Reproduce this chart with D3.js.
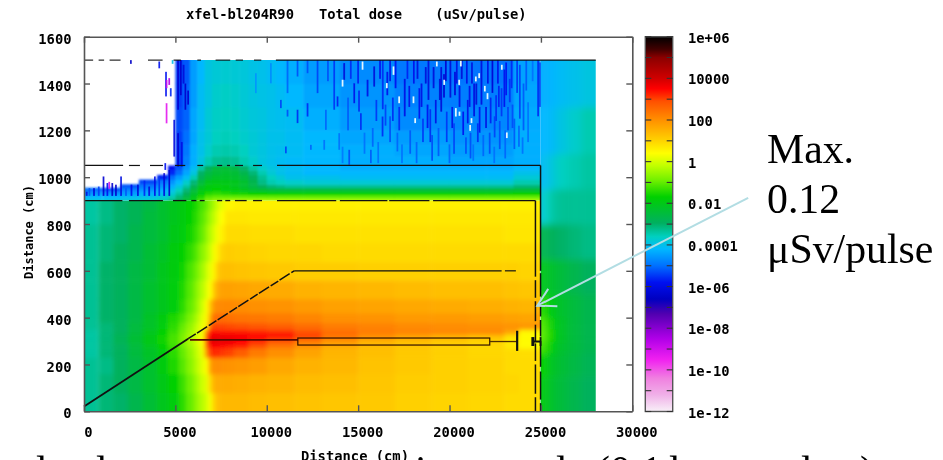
<!DOCTYPE html>
<html>
<head>
<meta charset="utf-8">
<style>
  html, body { margin: 0; padding: 0; background: #fff; overflow: hidden; }
  text { font-family: "DejaVu Sans Mono", monospace; font-weight: bold; font-size: 13.8px; fill: #000; }
  .note text, text.note { font-family: "Liberation Serif", serif; font-weight: normal; font-size: 41.8px; }
</style>
<script src="https://cdn.jsdelivr.net/npm/d3@7"></script>
</head>
<body>
<div id="chart"></div>
<script>
// All dose values are log10(uSv/pulse). null = no data (white).
const xTicks = [0, 5000, 10000, 15000, 20000, 25000, 30000];
const yTicks = [0, 200, 400, 600, 800, 1000, 1200, 1400, 1600];
const cbTicks = [-12, -11, -10, -9, -8, -7, -6, -5, -4, -3, -2, -1, 0, 1, 2, 3, 4, 5, 6];
const cbLabels = { '6': '1e+06', '4': '10000', '2': '100', '0': '1', '-2': '0.01', '-4': '0.0001',
  '-6': '1e-06', '-8': '1e-08', '-10': '1e-10', '-12': '1e-12' };

// colour bar, log10 dose -> colour
const paletteLog = [-12, -11.2, -10.4, -9.5, -8.5, -7.3, -6.6, -5.8, -5, -4.2, -3.6, -2.95, -1.7, -0.9, -0.2, 0.4, 1.05, 2, 2.9, 3.5, 4, 5, 5.4, 6];
const paletteCol = ['#f8f0f8', '#f0b0e8', '#f080e0', '#f020f0', '#b000e8', '#5000b0', '#0000c0', '#0010f0', '#0070ff', '#00b8ff', '#00d0c0', '#00b060', '#00d000', '#70f000', '#c0ff00', '#ffff00', '#ffd000', '#ff9000', '#ff5000', '#ff0000', '#d00000', '#8b0000', '#400000', '#000000'];

// tunnel and the ground left of it (y 0-900)
const tunnelX = [0, 800, 1600, 2400, 3200, 4000, 4600, 5200, 5600, 6000, 6300, 6600, 6800, 7000, 7200, 7400, 7700, 8200, 9000, 10000, 11500, 13000, 15000, 17000, 19000, 21000, 23000, 23800, 24950];
const tunnelY = [0, 80, 160, 230, 270, 290, 310, 330, 350, 380, 420, 480, 560, 640, 720, 800, 860, 900];
const tunnelDose = [
  [-3.3,-3.1,-3.0,-2.7,-2.4,-2.1,-1.8,-1.4,-1.0,-0.6,-0.3, 0.0,0.3,1.0,1.3,1.4,1.4,1.4,1.35,1.3,1.25,1.2,1.15,1.05,1.0,0.95,0.9,0.9],
  [-3.3,-3.1,-2.9,-2.6,-2.3,-2.0,-1.7,-1.3,-0.9,-0.5,-0.1, 0.15,0.9,1.5,1.6,1.6,1.6,1.55,1.5,1.45,1.35,1.3,1.2,1.1,1.05,1.0,0.95,0.9],
  [-3.3,-3.2,-2.9,-2.6,-2.3,-1.9,-1.5,-1.1,-0.7,-0.3,0.1, 0.4,1.7,2.0,2.05,2.0,1.95,1.9,1.8,1.65,1.5,1.4,1.25,1.15,1.05,1.0,0.9,0.9],
  [-3.4,-3.1,-2.9,-2.5,-2.2,-1.8,-1.4,-1.0,-0.6,-0.2,0.2, 2.0,3.0,3.2,3.2,3.1,3.0,2.7,2.3,2.0,1.7,1.45,1.3,1.15,1.05,0.95,0.9,0.85],
  [-3.4,-3.1,-2.9,-2.5,-2.1,-1.7,-1.3,-0.9,-0.5,-0.1,0.3, 2.8,3.4,3.5,3.5,3.5,3.45,3.3,2.9,2.4,2.0,1.6,1.35,1.2,1.05,0.95,0.7,0.45],
  [-3.4,-3.1,-2.8,-2.4,-2.0,-1.6,-1.2,-0.8,-0.4,0.0,0.35, 3.0,3.7,3.8,3.8,3.75,3.7,3.5,3.2,2.8,2.3,1.9,1.5,1.3,1.15,1.0,0.7,0.45],
  [-3.4,-3.1,-2.8,-2.4,-2.0,-1.6,-1.2,-0.8,-0.4,0.0,0.35, 3.0,3.6,3.7,3.7,3.7,3.65,3.6,3.5,3.4,3.0,2.4,2.0,1.7,1.5,1.3,0.8,0.45],
  [-3.4,-3.1,-2.9,-2.5,-2.1,-1.7,-1.3,-0.9,-0.5,-0.1,0.3, 2.4,3.4,3.5,3.5,3.45,3.4,3.4,3.3,3.2,2.9,2.5,2.3,2.2,2.15,2.1,1.7,0.5],
  [-3.3,-3.1,-2.9,-2.5,-2.2,-1.8,-1.4,-1.0,-0.6,-0.2,0.2, 0.6,2.6,3.0,3.0,3.0,2.95,2.9,2.8,2.7,2.5,2.3,2.2,2.1,2.05,2.0,1.95,1.9],
  [-3.3,-3.0,-2.9,-2.6,-2.2,-1.9,-1.5,-1.2,-0.8,-0.4,0.1, 0.45,1.6,2.5,2.5,2.5,2.45,2.4,2.35,2.3,2.15,2.0,1.95,1.85,1.85,1.8,1.75,1.7],
  [-3.3,-3.0,-2.9,-2.6,-2.3,-2.1,-1.8,-1.4,-1.0,-0.6,-0.1, 0.4,1.2,1.9,2.1,2.1,2.1,2.05,2.0,1.95,1.85,1.75,1.7,1.65,1.6,1.55,1.5,1.45],
  [-3.3,-3.0,-2.9,-2.6,-2.3,-2.1,-1.8,-1.5,-1.1,-0.7,-0.3, 0.1,0.4,1.1,1.6,1.75,1.75,1.7,1.65,1.6,1.5,1.45,1.4,1.35,1.3,1.3,1.25,1.2],
  [-3.3,-3.0,-2.9,-2.6,-2.4,-2.1,-1.9,-1.6,-1.2,-0.9,-0.5, -0.1,0.2,0.5,1.1,1.3,1.3,1.25,1.2,1.15,1.1,1.1,1.05,1.05,1.05,1.05,1.05,1.0],
  [-3.3,-3.1,-2.9,-2.7,-2.4,-2.2,-1.9,-1.7,-1.4,-1.1,-0.7, -0.4,-0.1,0.3,0.6,1.0,1.1,1.05,1.0,0.95,0.95,0.9,0.9,0.9,0.9,0.9,0.9,0.9],
  [-3.3,-3.1,-3.0,-2.7,-2.5,-2.3,-2.0,-1.8,-1.6,-1.3,-1.0, -0.6,-0.3,0.0,0.3,0.6,0.9,0.9,0.85,0.85,0.8,0.8,0.8,0.8,0.8,0.8,0.75,0.75],
  [-3.4,-3.2,-3.0,-2.8,-2.5,-2.3,-2.1,-1.9,-1.7,-1.4,-1.1, -0.8,-0.5,-0.2,0.1,0.4,0.75,0.75,0.7,0.7,0.7,0.7,0.7,0.7,0.7,0.7,0.7,0.7],
  [-3.4,-3.2,-3.0,-2.8,-2.6,-2.3,-2.1,-1.9,-1.7,-1.5,-1.2, -1.0,-0.7,-0.4,-0.1,0.2,0.5,0.6,0.6,0.6,0.6,0.6,0.6,0.6,0.6,0.6,0.6,0.6]
];

// ground above the tunnel (y 900-1500)
const soilX = [0, 1000, 2000, 3000, 4000, 4600, 5000, 5400, 5800, 6200, 6600, 7000, 7500, 8000, 8500, 9000, 9500, 10000, 10500, 11000, 12000, 14000, 17000, 20000, 22000, 23500, 24980];
const soilY = [900, 910, 925, 940, 955, 970, 990, 1010, 1030, 1050, 1090, 1140, 1200, 1300, 1400, 1500];
const _ = null;
const soilDose = [
  [-3.9,-3.9,-3.8,-3.7,-3.5,-3.2,-2.8,-2.3,-1.8,-1.2,-0.8,-0.6,-0.5,-0.4,-0.4,-0.4,-0.4,-0.4,-0.4,-0.4,-0.4,-0.4,-0.4,-0.4,-0.4,-0.4],
  [-4.2,-4.2,-4.1,-4.0,-3.8,-3.5,-3.1,-2.6,-2.0,-1.5,-1.1,-1.0,-1.0,-1.0,-1.0,-1.0,-1.0,-1.0,-1.0,-1.0,-1.0,-1.0,-1.0,-1.0,-1.0,-1.0],
  [-4.6,-4.6,-4.5,-4.3,-4.1,-3.8,-3.4,-2.9,-2.3,-1.8,-1.5,-1.4,-1.5,-1.6,-1.6,-1.7,-1.7,-1.7,-1.7,-1.7,-1.7,-1.7,-1.7,-1.7,-1.7,-1.7],
  [-5.0,-5.2,-4.8,-4.6,-4.3,-4.0,-3.6,-3.1,-2.5,-2.0,-1.8,-1.7,-1.8,-1.9,-2.1,-2.3,-2.4,-2.5,-2.5,-2.5,-2.5,-2.5,-2.5,-2.5,-2.5,-2.4],
  [_,_,-5.2,-4.9,-4.6,-4.3,-3.9,-3.4,-2.8,-2.2,-1.9,-1.8,-1.9,-2.1,-2.3,-2.6,-2.9,-3.1,-3.2,-3.3,-3.3,-3.3,-3.3,-3.3,-3.3,-3.1],
  [_,_,_,-5.3,-4.9,-4.6,-4.2,-3.7,-3.1,-2.5,-2.1,-2.0,-2.0,-2.1,-2.3,-2.7,-3.2,-3.5,-3.6,-3.7,-3.8,-3.8,-3.8,-3.8,-3.8,-3.5],
  [_,_,_,_,-5.6,-5.0,-4.5,-4.1,-3.5,-2.8,-2.4,-2.2,-2.2,-2.3,-2.5,-2.9,-3.3,-3.6,-3.8,-4.0,-4.0,-4.1,-4.1,-4.1,-4.1,-3.8],
  [_,_,_,_,_,-5.6,-5.0,-4.4,-3.9,-3.0,-2.6,-2.4,-2.3,-2.4,-2.7,-3.1,-3.5,-3.8,-4.0,-4.1,-4.2,-4.2,-4.2,-4.2,-4.2,-4.0],
  [_,_,_,_,_,-5.8,-5.2,-4.6,-4.1,-3.4,-2.9,-2.5,-2.4,-2.6,-3.0,-3.4,-3.7,-3.9,-4.0,-4.1,-4.2,-4.3,-4.3,-4.3,-4.3,-4.2],
  [_,_,_,_,_,_,-5.4,-4.8,-4.3,-3.9,-3.5,-3.3,-3.25,-3.3,-3.5,-3.7,-3.9,-4.0,-4.1,-4.15,-4.2,-4.3,-4.3,-4.4,-4.4,-4.3],
  [_,_,_,_,_,_,-5.4,-4.9,-4.3,-4.0,-3.7,-3.5,-3.45,-3.5,-3.6,-3.8,-3.9,-4.0,-4.05,-4.1,-4.2,-4.3,-4.4,-4.5,-4.5,-4.3],
  [_,_,_,_,_,_,-5.4,-5.0,-4.4,-4.0,-3.8,-3.6,-3.55,-3.6,-3.7,-3.8,-3.9,-4.0,-4.0,-4.1,-4.2,-4.4,-4.5,-4.6,-4.6,-4.3],
  [_,_,_,_,_,_,-5.3,-5.1,-4.4,-4.1,-3.8,-3.65,-3.6,-3.65,-3.75,-3.85,-3.9,-4.0,-4.05,-4.1,-4.3,-4.5,-4.7,-4.75,-4.75,-4.35],
  [_,_,_,_,_,_,-5.4,-5.1,-4.5,-4.1,-3.9,-3.7,-3.65,-3.7,-3.8,-3.9,-3.95,-4.0,-4.1,-4.2,-4.4,-4.6,-4.8,-4.85,-4.85,-4.4],
  [_,_,_,_,_,_,-5.4,-5.2,-4.5,-4.2,-3.9,-3.8,-3.75,-3.8,-3.85,-3.95,-4.0,-4.1,-4.2,-4.3,-4.5,-4.7,-4.9,-4.95,-4.95,-4.45]
];

// outside the end wall (x 24980-28000)
const endX = [24980, 25200, 25500, 25900, 26500, 27200, 28000];
const endY = [0, 150, 250, 300, 350, 400, 500, 650, 800, 950, 1100, 1300, 1500];
const endDose = [
  [-1.9,-2.1,-2.3,-2.5,-2.7,-2.9],
  [-1.7,-1.9,-2.2,-2.4,-2.6,-2.8],
  [-1.2,-1.5,-1.9,-2.3,-2.5,-2.7],
  [-1.0,-1.3,-1.7,-2.2,-2.5,-2.7],
  [-1.1,-1.4,-1.8,-2.2,-2.5,-2.7],
  [-1.4,-1.7,-2.0,-2.3,-2.5,-2.7],
  [-2.0,-2.2,-2.3,-2.5,-2.7,-2.9],
  [-2.7,-2.8,-2.9,-3.0,-3.1,-3.2],
  [-3.8,-3.6,-3.4,-3.3,-3.3,-3.3],
  [-4.1,-4.0,-3.8,-3.6,-3.5,-3.4],
  [-4.2,-4.2,-4.1,-3.9,-3.7,-3.5],
  [-4.3,-4.3,-4.2,-4.1,-4.0,-3.9]
];

// low-statistics streaks in the upper ground: [x, y0, y1, log10 dose]
const streaks = [
  [9356,1359,1444,-4.6],[10177,1401,1487,-4.7],[11089,1359,1500,-5.1],[11089,1259,1288,-5.3],[10724,1295,1330,-5.4],
  [11636,1231,1288,-5.6],[11636,1430,1500,-5.3],[12184,1259,1316,-5.6],[12184,1444,1500,-5.3],[12731,1359,1500,-5.4],
  [13643,1288,1500,-5.5],[14190,1416,1487,-6.2],[13187,1202,1288,-5.1],[10998,1102,1131,-5.4],[12366,1117,1138,-5.1],
  [13096,1117,1159,-5.0],[15102,1202,1273,-5.6],[15467,1345,1416,-6.0],[15832,1387,1473,-6.2],[16288,1174,1259,-5.6],
  [14738,1316,1401,-5.9],[14464,1053,1117,-5.3],[13916,1117,1188,-5.0],[15649,1060,1117,-5.2],[13825,1302,1345,-5.7],
  [16300,1290,1500,-5.6],[16700,1150,1260,-5.3],[17000,1380,1500,-5.8],[17200,1200,1300,-5.6],[17500,1260,1420,-6.0],
  [17800,1100,1200,-5.2],[18000,1400,1500,-5.9],[18300,1250,1380,-5.8],[18500,1150,1250,-5.5],[18800,1330,1500,-6.1],
  [19000,1070,1180,-5.3],[19200,1230,1330,-6.0],[19500,1280,1470,-6.2],[19800,1150,1280,-5.5],[20000,1340,1500,-6.2],
  [20200,1100,1230,-5.4],[20500,1300,1390,-6.0],[20700,1180,1280,-5.8],[20900,1400,1500,-6.0],[21100,1080,1190,-5.3],
  [21300,1260,1400,-6.1],[21500,1150,1230,-5.6],[21700,1310,1500,-6.1],[21950,1210,1300,-6.0],[22150,1100,1190,-5.3],
  [22300,1360,1500,-6.3],[22500,1240,1350,-5.6],[22700,1120,1240,-5.3],[22950,1300,1460,-5.8],[23150,1200,1300,-5.4],
  [23350,1380,1500,-5.6],[23500,1120,1250,-5.2],[23800,1250,1480,-5.4],[24000,1200,1400,-5.2],[24800,1260,1500,-5.6],[24900,1300,1490,-5.4],
  [14400,1200,1340,-5.2],[14950,1400,1500,-5.7],[15300,1100,1190,-5.0],[15950,1240,1330,-5.5],[16550,1350,1450,-5.9],[16850,1240,1340,-5.6],
  [17350,1060,1140,-5.0],[17650,1420,1500,-5.7],[18150,1060,1150,-5.1],[18650,1400,1470,-6.2],[19350,1090,1210,-5.2],[19650,1340,1440,-6.3],
  [19950,1060,1140,-5.1],[20350,1400,1500,-6.0],[20850,1100,1170,-5.3],[21050,1300,1390,-5.9],[21250,1070,1140,-5.0],[21600,1190,1300,-5.8],
  [22050,1400,1500,-6.0],[22400,1060,1130,-5.0],[22600,1400,1500,-5.9],[22800,1260,1380,-5.5],[23000,1080,1200,-5.1],[23250,1320,1420,-5.5],
  [23650,1360,1500,-5.5],[23950,1100,1170,-5.0],[14100,1060,1130,-4.9],[16050,1060,1150,-5.0],[16700,1410,1500,-6.0],[18900,1150,1290,-5.6],
  [15750,1130,1210,-5.1],[16150,1420,1500,-5.8],[16450,1220,1310,-5.4],[17100,1110,1190,-5.1],[17750,1300,1390,-5.9],[18200,1420,1500,-6.1],
  [18420,1300,1400,-6.0],[18750,1210,1310,-5.8],[19080,1380,1470,-6.2],[19420,1330,1420,-6.2],[19750,1410,1500,-6.3],[20100,1210,1300,-5.9],
  [20250,1350,1450,-6.2],[20620,1420,1500,-6.2],[20950,1230,1330,-5.9],[21180,1400,1490,-6.1],[21420,1310,1400,-6.2],[21800,1090,1180,-5.1],
  [22200,1230,1340,-5.7],[22420,1170,1260,-5.4],[22650,1300,1390,-5.7],[23050,1350,1490,-5.8],[23400,1210,1310,-5.3],[23750,1130,1220,-5.1],
  [24150,1370,1500,-5.2],[24250,1150,1320,-5.0],[24500,1410,1500,-5.0],[15000,1280,1370,-5.6],[14550,1420,1500,-5.6],[13300,1410,1500,-5.3],
  // around the shadow edge
  [5100,1288,1500,-6.3],[5250,1350,1500,-6.4],[5400,1400,1480,-6.2],[5500,1288,1400,-6.4],[5650,1310,1370,-6.3],
  [5100,1045,1188,-6.3],[5300,1045,1150,-6.0],[4890,1088,1245,-6.1],[4400,1031,1060,-5.8],[4440,1345,1450,-5.8],[4700,1345,1380,-5.6],
  [4070,1465,1494,-5.8],[2518,1484,1500,-6.5],[4800,1484,1500,-4.0],[4470,1230,1316,-9.3],[4470,1380,1415,-9.0],[4616,1394,1423,-8.6],
  [1333,950,980,-9.0],
  // fringe along the bottom left
  [100,920,938,-6.0],[250,920,953,-5.2],[500,920,953,-6.2],[760,920,960,-5.4],[1020,920,1003,-6.3],[1230,920,975,-5.8],[1500,920,975,-6.4],[1700,920,968,-6.4],
  [1980,920,1003,-6.1],[2250,920,953,-5.2],[2550,920,968,-5.8],[2900,920,968,-6.2],[3260,920,985,-5.6],[3520,920,960,-6.1],[3830,920,1003,-6.0],
  [4070,920,1003,-5.5],[4340,920,1017,-6.2],[4620,920,1031,-6.3]
];
// brighter pixels in the same area: [x, y0, y1]
const holes = [
  [16886,1437,1473],[16521,1380,1402],[17196,1316,1345],[17980,1316,1345],[18072,1231,1252],[19257,1473,1494],[19659,1394,1416],
  [20571,1473,1500],[20480,1394,1416],[20297,1259,1295],[20498,1262,1280],[21391,1409,1430],[21574,1423,1444],[21884,1366,1390],
  [22030,1333,1359],[22814,1459,1480],[21081,1198,1223],[21154,1231,1252],[23088,1167,1191],[14099,1387,1416],[15193,1459,1494]
];

// geometry outline, each broken line as its list of drawn pieces
const line1500 = [[0,500],[800,1100],[1400,2000],[3500,4300],[4900,5300],[6200,6400],[7200,8000],[8300,8700],[9300,9700],[10500,28000]];
const line1050 = [[0,2140],[2460,3060],[3610,4320],[4980,5540],[6200,6520],[7280,7560],[7820,7990],[8260,8700],[9250,9740],[10560,24980]];
const line900 = [[0,2100],[2460,4320],[4870,5600],[5870,6150],[6330,6600],[7280,7560],[7730,8000],[8260,8900],[9250,9740],[10560,13800],[14000,16600],[16700,18900],[19100,24700]];
const line600 = [[11500,22850],[23030,23630]];
const wallInner = [[0,60],[75,200],[215,290],[300,370],[385,470],[485,560],[575,900]];
const wallOuter = [[0,35],[50,170],[190,300],[320,390],[405,470],[490,590],[600,1050]];
const beamLow = [[0,20],[5700,310]];
const beamHigh = [[5700,310],[11500,600]];
const pipeLine = [[5800,305],[11700,305]];
const pipeBox = [11700,22200,283,313];
const stubLine = [[22200,298],[23700,298]];
const stubEnd = [[24520,298],[24980,298]];

const title = 'xfel-bl204R90   Total dose    (uSv/pulse)';
const axisName = 'Distance (cm)';
const noteLines = ['Max.', '0.12', 'μSv/pulse'];
const arrowFrom = [36340, 912];
const arrowTip = [24800, 451];
const arrowBarbs = [[25400, 523], [25900, 449]];
// tops of the slide's next line, cut off by the bottom edge
const cutText = [['l', 36], ['l', 96], ['i', 415], ['l', 556], ['(0.1', 596], ['l', 669], ['l', 801], [')', 860]];

const W = 943, H = 460;
const svg = d3.select('#chart').append('svg').attr('width', W).attr('height', H).style('display', 'block');
const defs = svg.append('defs');

const x = d3.scaleLinear().domain([0, 30000]).range([84, 632.3]);
const y = d3.scaleLinear().domain([0, 1600]).range([411.3, 36.7]);
const cb = d3.scaleLinear().domain([-12, 6]).range([411.5, 36.7]);
const color = d3.scaleLinear().domain(paletteLog).range(paletteCol).clamp(true);

// soft cells, the source picture is a blurred jpeg
function softFilter(id, sd) {
  defs.append('filter').attr('id', id)
    .attr('x', '-5%').attr('y', '-5%').attr('width', '110%').attr('height', '110%')
    .append('feGaussianBlur').attr('stdDeviation', sd);
}
softFilter('softTunnel', 2.2);
softFilter('softSoil', 1.3);
softFilter('softEnd', 3.5);
softFilter('softSpeck', 0.55);

function clipRect(id, x0, x1, y0, y1) {
  defs.append('clipPath').attr('id', id).append('rect')
    .attr('x', x(x0)).attr('y', y(y1)).attr('width', x(x1) - x(x0)).attr('height', y(y0) - y(y1));
}

// draws one matrix of cells, outer cells run past the clip so the blur doesn't fade at the border
function drawCells(id, filter, xs, ys, rows) {
  clipRect(id, xs[0], xs[xs.length - 1], ys[0], ys[ys.length - 1]);
  const cells = [];
  rows.forEach((row, j) => row.forEach((v, i) => { if (v !== null) cells.push({ i, j, v }); }));
  const pad = 14;
  const g = svg.append('g').attr('clip-path', `url(#${id})`).append('g').attr('filter', `url(#${filter})`);
  g.selectAll('rect').data(cells).join('rect')
    .attr('x', d => x(xs[d.i]) - (d.i === 0 ? pad : 0))
    .attr('y', d => y(ys[d.j + 1]) - (d.j === rows.length - 1 ? pad : 0))
    .attr('width', d => x(xs[d.i + 1]) - x(xs[d.i]) + (d.i === 0 || d.i === xs.length - 2 ? pad : 0.5))
    .attr('height', d => y(ys[d.j]) - y(ys[d.j + 1]) + (d.j === 0 ? pad : 0.5) + (d.j === rows.length - 1 ? pad : 0))
    .attr('fill', d => color(d.v));
  return g;
}

drawCells('clipTunnel', 'softTunnel', tunnelX, tunnelY, tunnelDose);
drawCells('clipEnd', 'softEnd', endX, endY, endDose);
drawCells('clipSoil', 'softSoil', soilX, soilY, soilDose);

// streaks
const streakW = 95;
const specks = svg.append('g').attr('clip-path', 'url(#clipSoil)').append('g').attr('filter', 'url(#softSpeck)');
specks.selectAll('rect.streak').data(streaks).join('rect').attr('class', 'streak')
  .attr('x', d => x(d[0])).attr('width', x(streakW) - x(0))
  .attr('y', d => y(d[2])).attr('height', d => y(d[1]) - y(d[2]))
  .attr('fill', d => color(d[3])).attr('opacity', 0.9);
specks.selectAll('rect.hole').data(holes).join('rect').attr('class', 'hole')
  .attr('x', d => x(d[0])).attr('width', x(streakW) - x(0))
  .attr('y', d => y(d[2])).attr('height', d => y(d[1]) - y(d[2]))
  .attr('fill', '#e4f6ff');

// outlines
const outline = svg.append('g').attr('stroke', '#111').attr('fill', 'none');
const lineGen = d3.line().x(d => x(d[0])).y(d => y(d[1]));
function hPieces(pieces, yVal, w) {
  outline.append('g').attr('stroke-width', w).selectAll('line').data(pieces).join('line')
    .attr('x1', d => x(d[0])).attr('x2', d => x(d[1])).attr('y1', y(yVal)).attr('y2', y(yVal));
}
function vPieces(pieces, xVal, w) {
  outline.append('g').attr('stroke-width', w).selectAll('line').data(pieces).join('line')
    .attr('y1', d => y(d[0])).attr('y2', d => y(d[1])).attr('x1', x(xVal)).attr('x2', x(xVal));
}
hPieces(line1500, 1500, 1.1);
hPieces(line1050, 1050, 1.2);
hPieces(line900, 900, 1.3);
hPieces(line600, 600, 1.2);
vPieces(wallInner, 24700, 1.5);
vPieces(wallOuter, 24980, 1.5);
outline.append('path').attr('d', lineGen(beamLow)).attr('stroke-width', 1.8);
outline.append('path').attr('d', lineGen(beamHigh)).attr('stroke-width', 1.5).attr('stroke-dasharray', '9,1.5,12,2');
outline.append('path').attr('d', lineGen(pipeLine)).attr('stroke', '#5a0a00').attr('stroke-width', 1.8);
outline.append('rect').attr('x', x(pipeBox[0])).attr('width', x(pipeBox[1]) - x(pipeBox[0]))
  .attr('y', y(pipeBox[3])).attr('height', y(pipeBox[2]) - y(pipeBox[3])).attr('stroke-width', 1.2).attr('stroke', '#301000');
outline.append('path').attr('d', lineGen(stubLine)).attr('stroke', '#503000').attr('stroke-width', 1.3);
outline.append('path').attr('d', lineGen(stubEnd)).attr('stroke-width', 2);
outline.append('path').attr('d', lineGen([[23700, 258], [23700, 344]])).attr('stroke-width', 2.2);
outline.append('path').attr('d', lineGen([[24560, 279], [24560, 317]])).attr('stroke-width', 3);
outline.append('path').attr('d', lineGen([[24980, 279], [24980, 317]])).attr('stroke-width', 1.8);

// axes, gnuplot style with inward ticks on all four sides
const frame = '#555';
const tickLen = 6;
function styleAxis(g) {
  g.selectAll('path.domain').attr('stroke', frame).attr('stroke-width', 1.6);
  g.selectAll('.tick line').attr('stroke', frame).attr('stroke-width', 1.4);
}
svg.append('g').attr('transform', `translate(0,${y(0)})`)
  .call(d3.axisBottom(x).tickValues(xTicks).tickFormat(d3.format('d')).tickSizeInner(-tickLen).tickSizeOuter(0).tickPadding(0))
  .call(styleAxis)
  .call(g => g.selectAll('text').attr('x', 4).attr('y', 0).attr('dy', 26))
  .attr('font-family', null).attr('font-size', null);
svg.append('g').attr('transform', `translate(0,${y(1600)})`)
  .call(d3.axisTop(x).tickValues(xTicks).tickFormat('').tickSizeInner(-tickLen).tickSizeOuter(0))
  .call(styleAxis);
svg.append('g').attr('transform', `translate(${x(0)},0)`)
  .call(d3.axisLeft(y).tickValues(yTicks).tickFormat(d3.format('d')).tickSizeInner(-tickLen).tickSizeOuter(0).tickPadding(0))
  .call(styleAxis)
  .call(g => g.selectAll('text').attr('x', -12.5).attr('dy', '0.48em'))
  .attr('font-family', null).attr('font-size', null);
svg.append('g').attr('transform', `translate(${x(30000)},0)`)
  .call(d3.axisRight(y).tickValues(yTicks).tickFormat('').tickSizeInner(-tickLen).tickSizeOuter(0))
  .call(styleAxis);

svg.append('text').attr('x', 186).attr('y', 19).style('white-space', 'pre').text(title);
svg.append('text').attr('x', 301).attr('y', 461).text(axisName);
svg.append('text').attr('transform', 'translate(33,232) rotate(-90)').attr('text-anchor', 'middle').style('font-size', '12px').text(axisName);

// colour bar
const cbLeft = 645.3, cbRight = 672.7;
const grad = defs.append('linearGradient').attr('id', 'cbGrad').attr('x1', 0).attr('x2', 0).attr('y1', 1).attr('y2', 0);
grad.selectAll('stop').data(paletteLog).join('stop')
  .attr('offset', d => (d + 12) / 18).attr('stop-color', d => color(d));
svg.append('rect').attr('x', cbLeft).attr('y', cb(6)).attr('width', cbRight - cbLeft).attr('height', cb(-12) - cb(6))
  .attr('fill', 'url(#cbGrad)').attr('stroke', frame).attr('stroke-width', 1.4);
const cbAxis = svg.append('g');
cbAxis.selectAll('line.l').data(cbTicks).join('line').attr('class', 'l')
  .attr('x1', cbLeft).attr('x2', cbLeft + tickLen).attr('y1', d => cb(d)).attr('y2', d => cb(d));
cbAxis.selectAll('line.r').data(cbTicks).join('line').attr('class', 'r')
  .attr('x1', cbRight - tickLen).attr('x2', cbRight).attr('y1', d => cb(d)).attr('y2', d => cb(d));
cbAxis.selectAll('line').attr('stroke', '#333').attr('stroke-width', 1.1);
cbAxis.selectAll('text').data(cbTicks.filter(d => cbLabels[d])).join('text')
  .attr('x', 688).attr('y', d => cb(d) + 6).text(d => cbLabels[d]);

// slide annotation on top
const arrowCol = '#b2dde3';
const arrow = svg.append('g').attr('stroke', arrowCol).attr('stroke-width', 2).attr('fill', 'none');
arrow.append('path').attr('d', lineGen([arrowFrom, arrowTip]));
arrow.append('path').attr('d', lineGen([arrowBarbs[0], arrowTip, arrowBarbs[1]]));

svg.append('g').selectAll('text').data(noteLines).join('text').attr('class', 'note')
  .attr('x', 767).attr('y', (d, i) => 162.7 + i * 50).text(d => d);
svg.append('g').selectAll('text').data(cutText).join('text').attr('class', 'note')
  .attr('x', d => d[1]).attr('y', 485).text(d => d[0]);
</script>
</body>
</html>
